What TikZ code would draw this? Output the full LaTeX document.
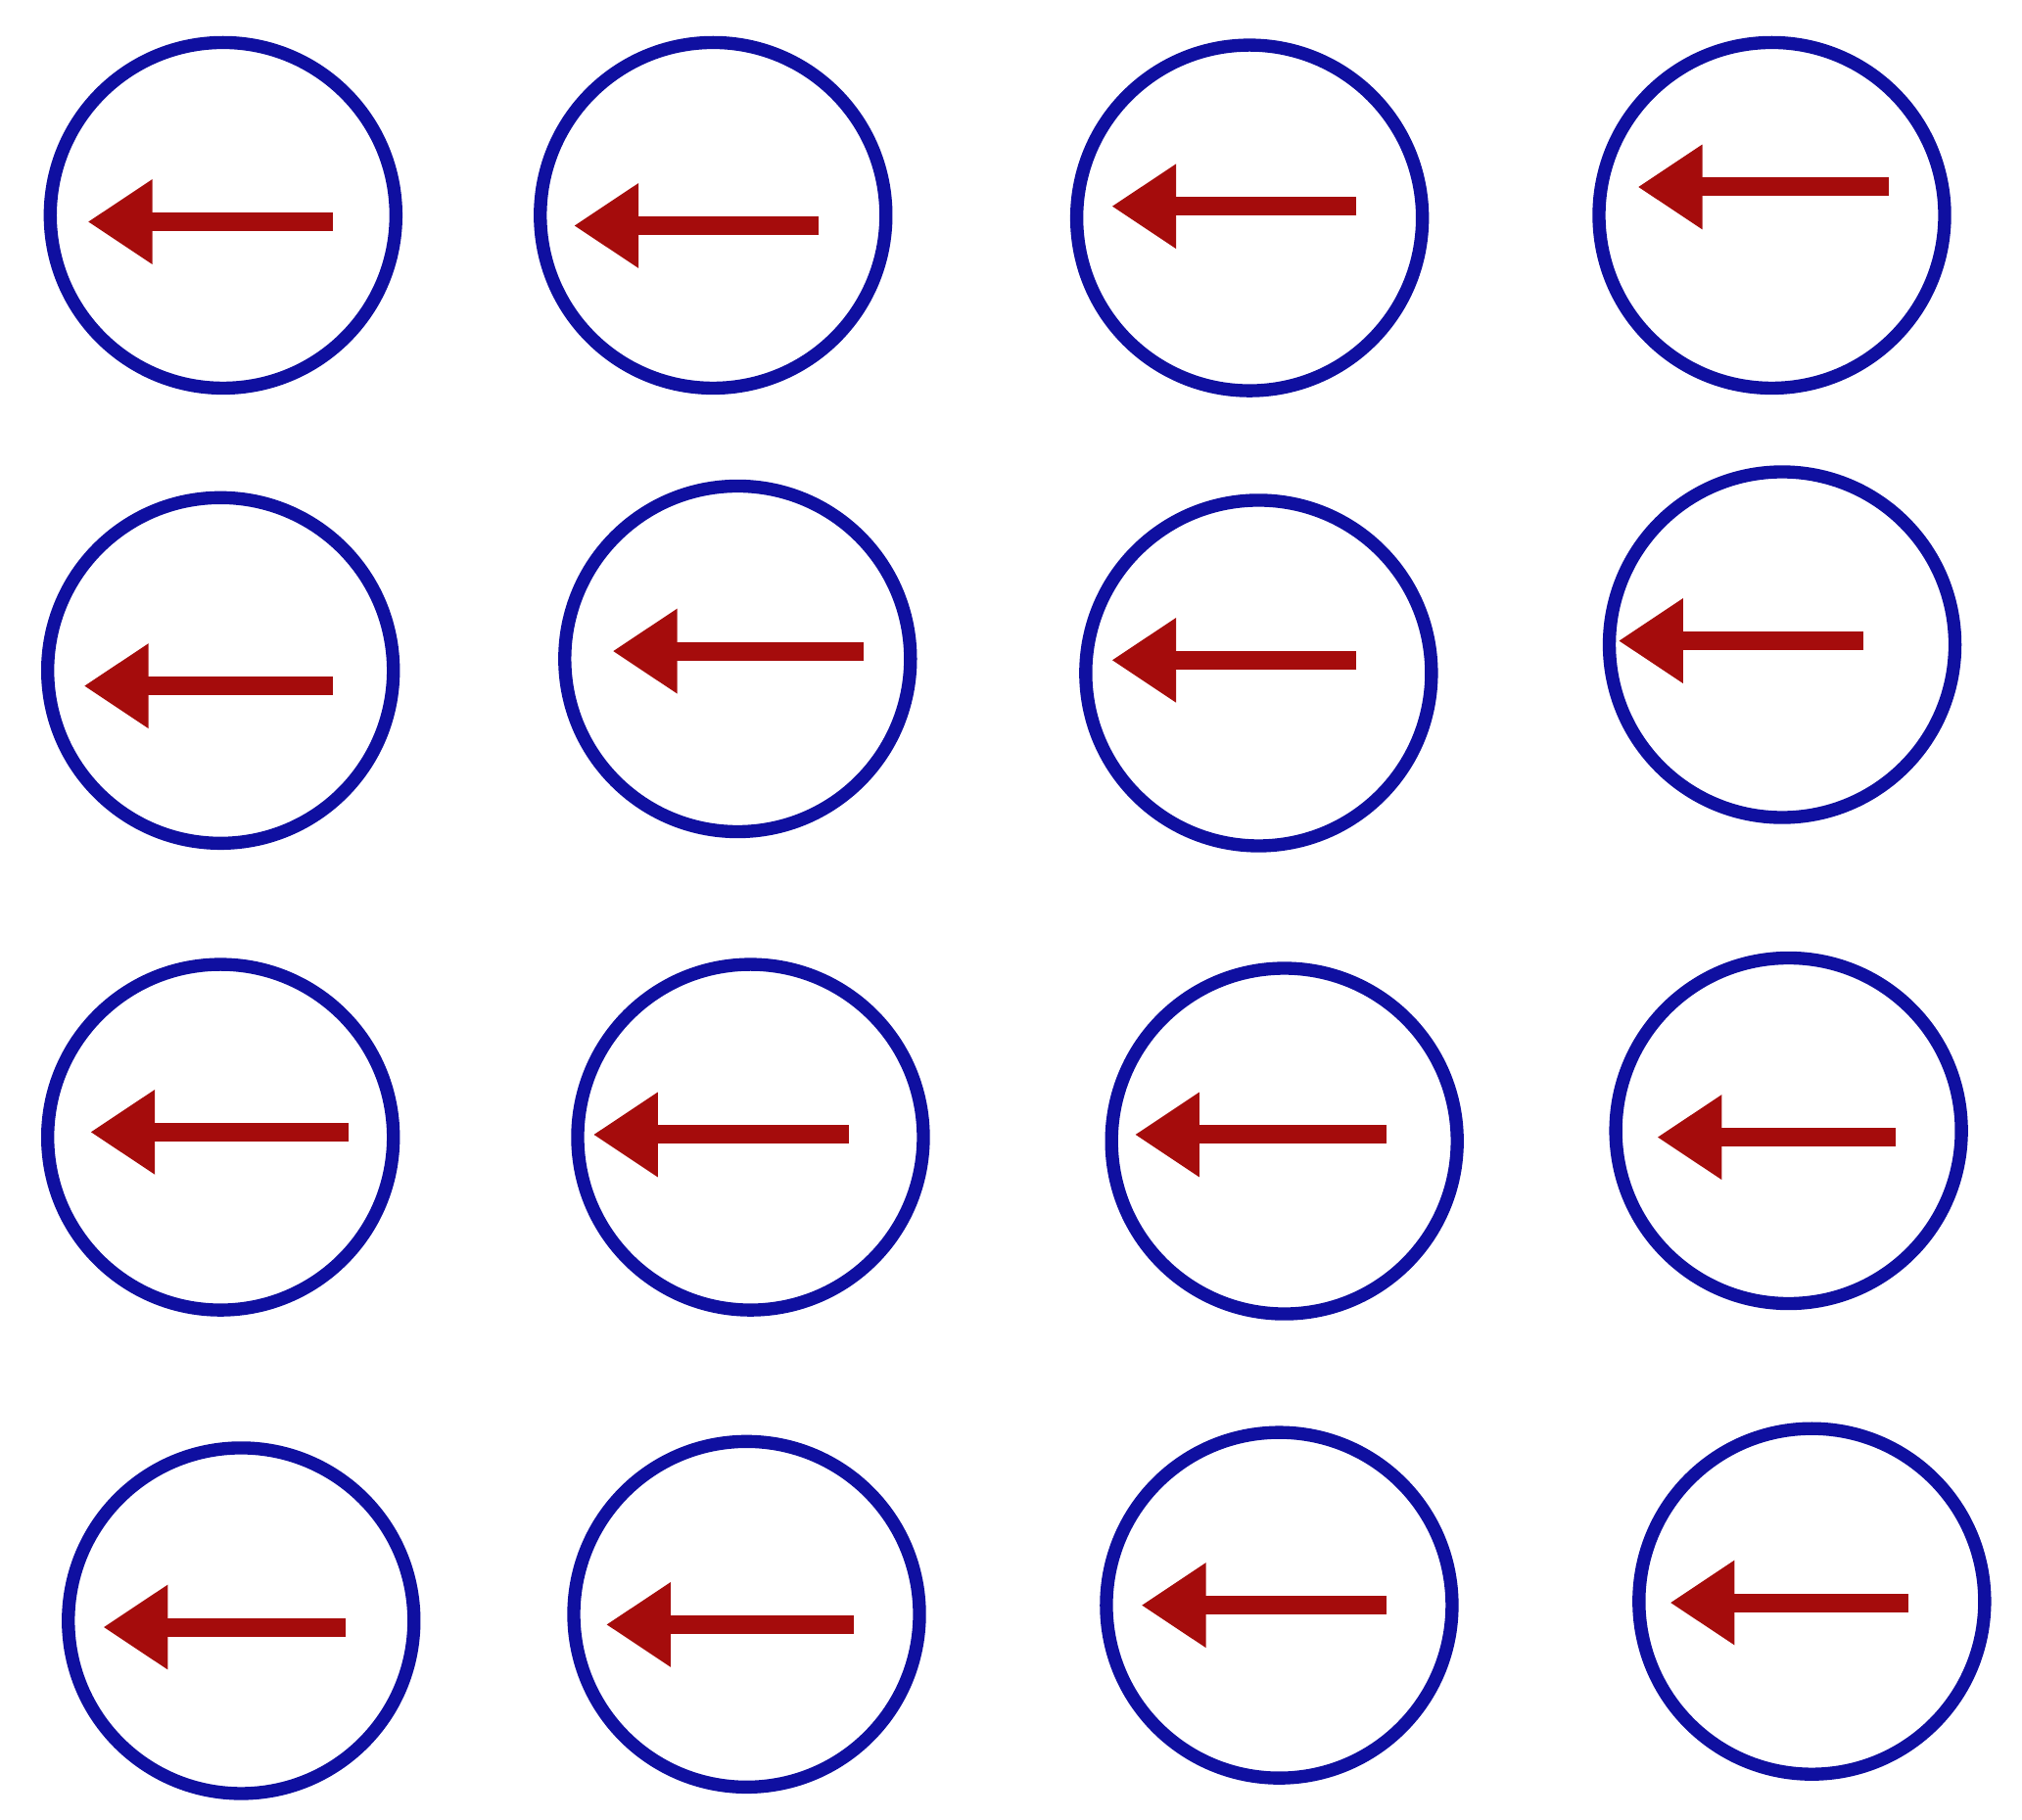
\documentclass[tikz,border=0pt]{standalone}
\usepackage{tikz}
\usetikzlibrary{arrows.meta}
\definecolor{ringblue}{RGB}{15,15,160}
\definecolor{spinred}{RGB}{165,12,12}

\begin{document}
\begin{tikzpicture}[x=0.01317cm,y=-0.01317cm,
    ring/.style={draw=ringblue,circle,line width=3.8pt,inner sep=0pt,minimum size=3.53cm},
    spin/.style={draw=spinred,line width=5.4pt,-{Triangle[length=6.6mm,width=8.2mm]}}]
    \useasboundingbox (0,0) rectangle (1568,1411);
    % lattice sites: name/x/y/tail/head/arrow y
    \foreach \n/\x/\y/\t/\h/\a in {
        11/173/167/258/68/172, 12/553/167/635/445/175,
        13/969/169/1052/862/160, 14/1374/167/1465/1270/145,
        21/171/520/258/65/532, 22/572/511/670/475/505,
        23/976/522/1052/862/512, 24/1382/500/1445/1255/497,
        31/171/882/270/70/878, 32/582/882/658/460/880,
        33/996/885/1075/880/880, 34/1387/877/1470/1285/882,
        41/187/1257/268/80/1262, 42/579/1252/662/470/1260,
        43/992/1245/1075/885/1245, 44/1405/1242/1480/1295/1243}{
      \node[ring] (c\n) at (\x,\y) {};
      \coordinate (t\n) at (\t,\a);
      \coordinate (h\n) at (\h,\a);
      \draw[spin] (t\n)--(h\n);}
\end{tikzpicture}
\end{document}
